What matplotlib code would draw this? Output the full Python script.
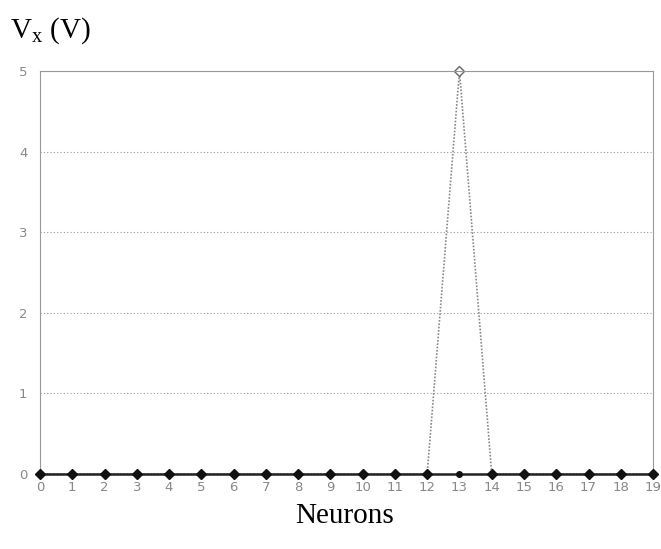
import numpy as np
import matplotlib.pyplot as plt

# =====================================
# Data
# =====================================

neurons = np.arange(20)

vx_flat = [0] * 20

vx_peak = [0, 0, 0, 0, 0, 0, 0, 0, 0, 0, 0, 0, 0, 5, 0, 0, 0, 0, 0, 0]

x_tick_labels = [str(n) for n in neurons]

y_ticks = [0, 1, 2, 3, 4, 5]

peak_index = 13


# =====================================
# Figure
# =====================================

fig = plt.figure(figsize=(6.61, 5.49), dpi=100)

ax = fig.add_axes([0.0605, 0.1366, 0.9275, 0.7341])

ax.plot(
    neurons,
    vx_peak,
    color="#888888",
    linestyle=(0, (1, 1)),
    linewidth=1.2,
    marker="D",
    markersize=5,
    markevery=[peak_index],
    markerfacecolor="white",
    markeredgecolor="#666666",
    zorder=2
)

diamond_idx = [i for i in range(len(neurons)) if i != peak_index]

ax.plot(
    neurons,
    vx_flat,
    color="#222222",
    linewidth=1.8,
    marker="D",
    markersize=5.5,
    markevery=diamond_idx,
    markerfacecolor="#111111",
    markeredgecolor="#111111",
    zorder=3
)

ax.plot(
    neurons,
    vx_flat,
    linestyle="none",
    marker="o",
    markersize=4,
    markevery=[peak_index],
    color="#111111",
    zorder=3
)

ax.set_xlim(0, 19)
ax.set_ylim(0, 5)

ax.set_xticks(neurons)
ax.set_xticklabels(x_tick_labels)
ax.set_yticks(y_ticks)

ax.tick_params(
    length=0,
    labelsize=9.5,
    labelcolor="#888888"
)
ax.tick_params(axis="y", pad=9)
ax.tick_params(axis="x", pad=5)

ax.grid(
    axis="y",
    color="#999999",
    linestyle=(0, (1, 2)),
    linewidth=0.8
)

for side in ["left", "top", "right"]:
    ax.spines[side].set_linestyle((0, (1, 1)))
    ax.spines[side].set_color("#999999")
    ax.spines[side].set_linewidth(0.8)

ax.spines["bottom"].set_visible(False)

for line in ax.lines:
    line.set_clip_on(False)


# =====================================
# Labels
# =====================================

fig.text(
    0.015,
    0.945,
    r"V$_\mathregular{x}$ (V)",
    fontsize=21,
    family="Liberation Serif",
    ha="left",
    va="center"
)

fig.text(
    0.522,
    0.060,
    "Neurons",
    fontsize=21,
    family="Liberation Serif",
    ha="center",
    va="center"
)

plt.savefig("out.png", dpi=100)
